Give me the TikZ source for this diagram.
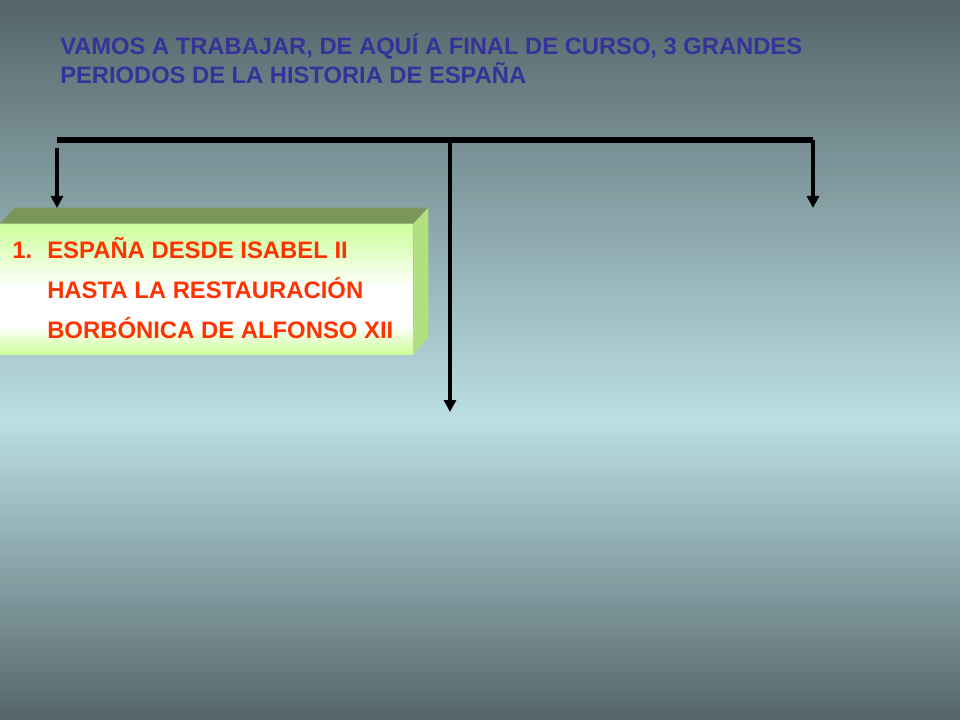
\documentclass[tikz,border=0pt]{standalone}
\usepackage{fontspec}
\setmainfont{Liberation Sans}
\usetikzlibrary{arrows.meta}

\definecolor{bgdark}{RGB}{84,101,106}
\definecolor{bgmid}{RGB}{150,176,180}
\definecolor{bglight}{RGB}{187,223,227}
\definecolor{titleblue}{RGB}{51,51,153}
\definecolor{itemred}{RGB}{255,51,0}
\definecolor{boxgreen}{RGB}{204,255,153}
\definecolor{boxtop}{RGB}{122,150,90}
\definecolor{boxside}{RGB}{178,224,128}
\pgfdeclareverticalshading{boxfront}{100bp}{color(0bp)=(boxgreen); color(25bp)=(boxgreen);
    color(36bp)=(white); color(50bp)=(white); color(75bp)=(boxgreen); color(100bp)=(boxgreen)}

\begin{document}
\begin{tikzpicture}[x=0.75pt,y=-0.75pt,
    bar/.style={line width=4.5pt},
    drop/.style={line width=3pt,-{Triangle[width=9pt,length=9pt]}},
    titletext/.style={anchor=base west,inner sep=0pt,text=titleblue,
        font=\bfseries\fontsize{17.8}{18}\selectfont},
    itemtext/.style={anchor=base west,inner sep=0pt,text=itemred,
        font=\bfseries\fontsize{17.9}{30}\selectfont},
    frontface/.style={minimum width=309.75pt,minimum height=97.5pt,inner sep=0pt,
        shading=boxfront}]
    % background
    \shade[top color=bgdark,middle color=bgmid,bottom color=bglight](0,0)rectangle(960,420);
    \shade[top color=bglight,middle color=bgmid,bottom color=bgdark](0,420)rectangle(960,720);
    \useasboundingbox(0,0)rectangle(960,720);

    \node[titletext](title)at(60,55){\begin{tabular}[t]{@{}l@{}}
        VAMOS A TRABAJAR, DE AQUÍ A FINAL DE CURSO, 3 GRANDES\\
        PERIODOS DE LA HISTORIA DE ESPAÑA\end{tabular}};

    % box
    \node[frontface](box)at(206.5,289){};
    \fill[boxtop](box.north west)--++(15,-16)--++(413,0)--(box.north east)--cycle;
    \fill[boxside](box.north east)--++(15,-16)--++(0,130)--(box.south east)--cycle;
    \node[itemtext](item)at(12,259){\begin{tabular}[t]{@{}p{26.25pt}@{}l@{}}
        1. & ESPAÑA DESDE ISABEL II\\
           & HASTA LA RESTAURACIÓN\\
           & BORBÓNICA DE ALFONSO XII\end{tabular}};

    % bar and arrows
    \coordinate(barL)at(57,140);
    \coordinate(barM)at(450,140);
    \coordinate(barR)at(813,140);
    \coordinate(leftstart)at(57,148);
    \coordinate(boxentry)at(57,208);
    \coordinate(midend)at(450,412);
    \coordinate(rightend)at(813,208);
    \draw[bar](barL)--(barR);
    \draw[drop](leftstart)--(boxentry);
    \draw[drop](barM)--(midend);
    \draw[drop](barR)--(rightend);
\end{tikzpicture}
\end{document}
